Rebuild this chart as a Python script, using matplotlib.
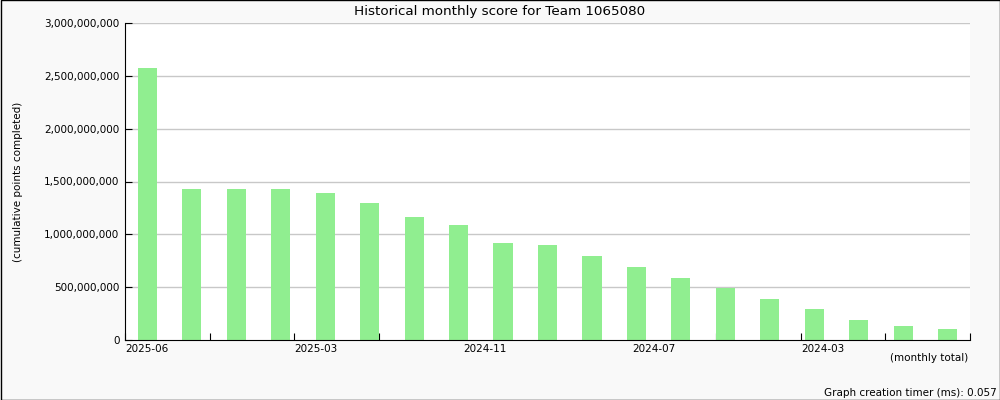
import numpy as np
import matplotlib.pyplot as plt
from matplotlib.ticker import FuncFormatter

# monthly totals, newest first
months = ["2025-06", "2025-05", "2025-04", "2025-03", "2025-02", "2025-01",
          "2024-12", "2024-11", "2024-10", "2024-09", "2024-08", "2024-07",
          "2024-06", "2024-05", "2024-04", "2024-03", "2024-02", "2024-01",
          "2023-12"]
scores = [2.574e9, 1.429e9, 1.429e9, 1.429e9, 1.391e9, 1.297e9,
          1.164e9, 1.088e9, 0.918e9, 0.899e9, 0.795e9, 0.691e9,
          0.587e9, 0.495e9, 0.388e9, 0.293e9, 0.189e9, 0.132e9,
          0.104e9]
tick_labels = ["2025-06", "", "2025-03", "", "2024-11", "", "2024-07", "",
               "2024-03", "", ""]
y_ticks = [0, 5e8, 1e9, 1.5e9, 2e9, 2.5e9, 3e9]

fig = plt.figure(figsize=(10, 4), dpi=100, facecolor="#f9f9f9")
fig.patches.append(plt.Rectangle((0.0005, 0.001), 0.999, 0.998, transform=fig.transFigure,
                                 fill=False, edgecolor="black", linewidth=1))
ax = fig.add_axes([0.125, 0.15, 0.845, 0.7925])

x = np.arange(len(scores)) + 0.5
ax.bar(x, scores, width=0.43, color="#90ee90", zorder=2)

ax.set_xlim(0, len(scores))
ax.set_ylim(0, 3e9)
ax.set_yticks(y_ticks)
ax.yaxis.set_major_formatter(FuncFormatter(lambda v, p: f"{int(v):,}"))
ax.set_xticks(np.linspace(0, len(scores), len(tick_labels)))
ax.set_xticklabels(tick_labels, ha="left")
ax.tick_params(direction="in", length=5, labelsize=7.5, pad=4, colors="black")
ax.tick_params(axis="x", pad=3)

for v in y_ticks[1:]:
    ax.axhline(v, color="#c8c8c8", linewidth=1, zorder=1)

ax.spines["top"].set_visible(False)
ax.spines["right"].set_visible(False)

fig.text(0.5, 0.972, "Historical monthly score for Team 1065080",
         ha="center", va="center", fontsize=9.7)
fig.text(0.018, 0.545, "(cumulative points completed)", rotation=90,
         ha="center", va="center", fontsize=7.5)
fig.text(0.968, 0.105, "(monthly total)", ha="right", va="center", fontsize=7.5)
fig.text(0.997, 0.017, "Graph creation timer (ms): 0.057", ha="right",
         va="center", fontsize=7.5)

plt.savefig("out.png", dpi=100, facecolor=fig.get_facecolor())
